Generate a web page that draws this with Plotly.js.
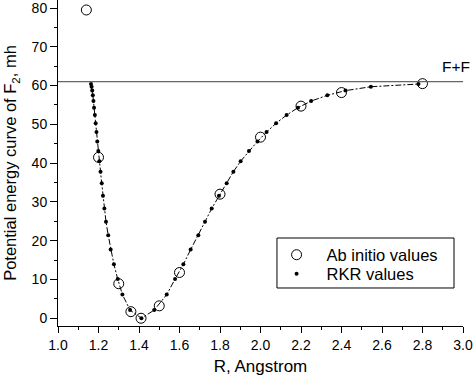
<!DOCTYPE html>
<html>
<head>
<meta charset="utf-8">
<script src="https://cdn.plot.ly/plotly-3.0.1.min.js"></script>
<style>html,body{margin:0;padding:0;background:#fff;}#chart{width:474px;height:376px;}</style>
</head>
<body>
<div id="chart"></div>
<script>
// Ab initio values (R in Angstrom, energy in mh)
const abR = [1.14, 1.20, 1.30, 1.36, 1.41, 1.50, 1.60, 1.80, 2.00, 2.20, 2.40, 2.80];
const abE = [79.5, 41.5, 8.9, 1.7, 0.0, 3.2, 11.8, 32.0, 46.7, 54.7, 58.2, 60.5];

// RKR values: vibrational levels with inner and outer turning points
const rkrLevels = [2.1, 6.1, 10.1, 13.9, 17.7, 21.4, 24.9, 28.3, 31.6, 34.8, 37.8, 40.5, 43.1, 45.6, 48.0, 50.3, 52.4, 54.3, 56.0, 57.5, 58.7, 59.7, 60.4];
const rkrInner  = [1.356, 1.318, 1.295, 1.276, 1.260, 1.248, 1.237, 1.229, 1.222, 1.216, 1.210, 1.204, 1.199, 1.194, 1.190, 1.186, 1.182, 1.178, 1.175, 1.172, 1.169, 1.166, 1.163];
const rkrOuter  = [1.475, 1.537, 1.578, 1.619, 1.655, 1.693, 1.726, 1.759, 1.795, 1.833, 1.866, 1.902, 1.943, 1.985, 2.030, 2.077, 2.129, 2.185, 2.250, 2.330, 2.420, 2.545, 2.780];
const rkrMinR = [1.412];
const rkrMinE = [0.0];

// Dissociation limit
const limitE = [61];
const limitLabel = ['F+F'];

const rkrX = rkrInner.slice().reverse().concat(rkrMinR, rkrOuter);
const rkrY = rkrLevels.slice().reverse().concat(rkrMinE, rkrLevels);

const font = 'Liberation Sans, Arial, Helvetica, sans-serif';

const traces = [
  {x: rkrX, y: rkrY, mode: 'lines', showlegend: false, hoverinfo: 'skip',
   line: {color: 'black', width: 1, dash: '6px,2px,2px,2px'}},
  {x: abR, y: abE, mode: 'markers', name: 'Ab initio values', legend: 'legend',
   marker: {symbol: 'circle-open', size: 10, color: 'black', line: {width: 1, color: 'black'}}},
  {x: rkrX, y: rkrY, mode: 'markers', name: 'RKR values', legend: 'legend2',
   marker: {symbol: 'circle', size: 4, color: 'black'}}
];

const legendBase = {xanchor: 'left', yanchor: 'middle', borderwidth: 0, bgcolor: 'rgba(0,0,0,0)',
                    font: {size: 16.5, family: font}, itemwidth: 50};

const layout = {
  width: 474, height: 376,
  margin: {l: 58, r: 11, t: 0, b: 50, pad: 0},
  paper_bgcolor: 'white', plot_bgcolor: 'white',
  font: {family: font, color: 'black', size: 14},
  showlegend: true,
  xaxis: {
    range: [1.0, 3.0], dtick: 0.2, tick0: 1.0, tickformat: '.1f',
    ticks: 'outside', ticklen: 6, tickwidth: 1, tickcolor: 'black',
    showline: true, linecolor: 'black', linewidth: 1,
    showgrid: false, zeroline: false, ticklabeloverflow: 'allow',
    minor: {dtick: 0.1, ticks: 'outside', ticklen: 3, tickcolor: 'black', tickwidth: 1, showgrid: false},
    tickfont: {size: 14, family: font},
    title: {text: 'R, Angstrom', font: {size: 17, family: font}, standoff: 8}
  },
  yaxis: {
    range: [-2, 82.07], dtick: 10, tick0: 0,
    ticks: 'outside', ticklen: 7, tickwidth: 1, tickcolor: 'black',
    showline: true, linecolor: 'black', linewidth: 1,
    showgrid: false, zeroline: false, ticklabeloverflow: 'allow',
    minor: {dtick: 5, ticks: 'outside', ticklen: 3.5, tickcolor: 'black', tickwidth: 1, showgrid: false},
    tickfont: {size: 14, family: font},
    title: {text: 'Potential energy curve of F<sub>2</sub>, mh', font: {size: 16.5, family: font}, standoff: 10}
  },
  shapes: [
    {type: 'line', xref: 'x', yref: 'y', x0: 1.0, x1: 3.0, y0: limitE[0], y1: limitE[0],
     line: {color: '#666', width: 1.2}},
    {type: 'rect', xref: 'paper', yref: 'paper', x0: 0.5407, x1: 0.9778, y0: 0.1166, y1: 0.2699,
     line: {color: 'black', width: 1}, fillcolor: 'rgba(0,0,0,0)'}
  ],
  annotations: [{x: 2.965, y: 64.8, xref: 'x', yref: 'y', text: limitLabel[0], showarrow: false,
                 font: {size: 15.5, family: font, color: 'black'}}],
  legend: Object.assign({}, legendBase, {x: 0.515, y: 0.2178}),
  legend2: Object.assign({}, legendBase, {x: 0.515, y: 0.1595})
};

Plotly.newPlot('chart', traces, layout, {displayModeBar: false, staticPlot: true});
</script>
</body>
</html>
